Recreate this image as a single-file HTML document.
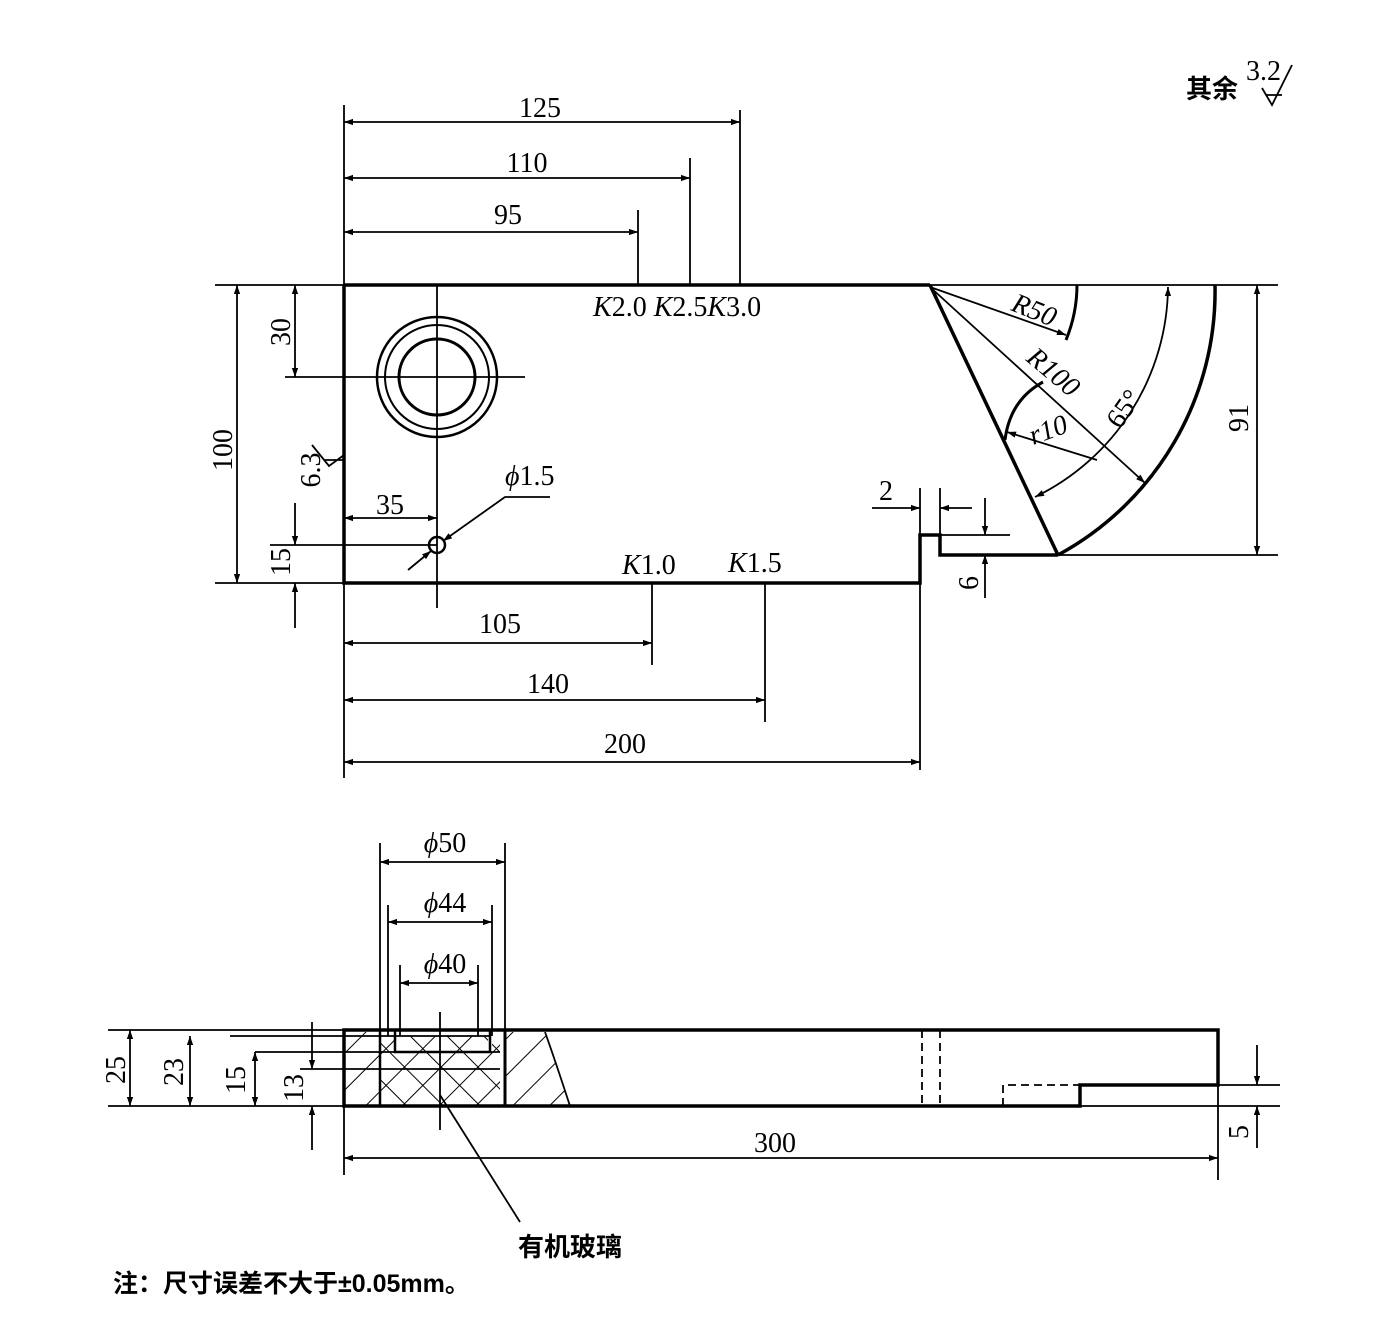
<!DOCTYPE html>
<html><head><meta charset="utf-8"><style>
html,body{margin:0;padding:0;background:#fff}
svg{display:block}
text{font-family:"Liberation Serif","Noto Serif CJK SC",serif;font-size:28px;fill:#000}
.cn{font-family:"Liberation Sans","Noto Sans CJK SC",sans-serif;font-weight:bold;font-size:26px}
</style></head><body>
<svg width="1376" height="1320" viewBox="0 0 1376 1320" xmlns="http://www.w3.org/2000/svg">
<defs>
<marker id="a" viewBox="0 0 10 10" refX="10" refY="5" markerWidth="18" markerHeight="9" markerUnits="userSpaceOnUse" orient="auto-start-reverse"><path d="M0,1.5 L10,5 L0,8.5z" fill="#000"/></marker>
<pattern id="h" width="26" height="26" patternUnits="userSpaceOnUse" patternTransform="rotate(45)"><line x1="0" y1="0" x2="0" y2="26" stroke="#000" stroke-width="2"/></pattern>
<pattern id="x" width="26" height="26" patternUnits="userSpaceOnUse" patternTransform="rotate(45)"><line x1="0" y1="0" x2="0" y2="26" stroke="#000" stroke-width="2"/><line x1="0" y1="0" x2="26" y2="0" stroke="#000" stroke-width="2"/></pattern>
</defs>
<g stroke="#000" fill="none" stroke-width="1.8">
<line x1="215" y1="285" x2="1278" y2="285"/>
<line x1="215" y1="583" x2="344" y2="583"/>
<line x1="1058" y1="555" x2="1278" y2="555"/>
<path d="M344,285 V583 H920 V535 H940 V555 H1058" stroke-width="3.5"/>
<line x1="344" y1="285" x2="930" y2="285" stroke-width="3.5"/>
<line x1="930" y1="285" x2="1058" y2="555" stroke-width="3.5"/>
<path d="M1058,555 A300,300 0 0 0 1215,285" stroke-width="3.5"/>
<path d="M1077,285 A145,145 0 0 1 1066,340" stroke-width="3"/>
<path d="M1005,440 Q1010,400 1043,382" stroke-width="3"/>
<line x1="930" y1="287" x2="1066" y2="335" marker-end="url(#a)"/>
<line x1="930" y1="287" x2="1145" y2="483" marker-end="url(#a)"/>
<line x1="1007" y1="432" x2="1097" y2="460" marker-start="url(#a)"/>
<path d="M1168,287 A236,236 0 0 1 1035,497" marker-start="url(#a)" marker-end="url(#a)"/>
<circle cx="437" cy="377" r="60" stroke-width="2.5"/>
<circle cx="437" cy="377" r="52" stroke-width="2"/>
<circle cx="437" cy="377" r="38" stroke-width="3"/>
<line x1="285" y1="377" x2="525" y2="377"/>
<line x1="437" y1="285" x2="437" y2="608"/>
<circle cx="437" cy="545" r="8" stroke-width="2.5"/>
<line x1="344" y1="105" x2="344" y2="285"/>
<line x1="740" y1="110" x2="740" y2="285"/>
<line x1="690" y1="158" x2="690" y2="285"/>
<line x1="638" y1="210" x2="638" y2="285"/>
<line x1="344" y1="122" x2="740" y2="122" marker-start="url(#a)" marker-end="url(#a)"/>
<line x1="344" y1="178" x2="690" y2="178" marker-start="url(#a)" marker-end="url(#a)"/>
<line x1="344" y1="232" x2="638" y2="232" marker-start="url(#a)" marker-end="url(#a)"/>
<line x1="344" y1="583" x2="344" y2="778"/>
<line x1="920" y1="583" x2="920" y2="770"/>
<line x1="652" y1="583" x2="652" y2="665"/>
<line x1="765" y1="583" x2="765" y2="722"/>
<line x1="344" y1="643" x2="652" y2="643" marker-start="url(#a)" marker-end="url(#a)"/>
<line x1="344" y1="700" x2="765" y2="700" marker-start="url(#a)" marker-end="url(#a)"/>
<line x1="344" y1="762" x2="920" y2="762" marker-start="url(#a)" marker-end="url(#a)"/>
<line x1="237" y1="285" x2="237" y2="583" marker-start="url(#a)" marker-end="url(#a)"/>
<line x1="295" y1="285" x2="295" y2="377" marker-start="url(#a)" marker-end="url(#a)"/>
<line x1="270" y1="545" x2="437" y2="545"/>
<line x1="295" y1="503" x2="295" y2="545" marker-end="url(#a)"/>
<line x1="295" y1="628" x2="295" y2="583" marker-end="url(#a)"/>
<line x1="344" y1="518" x2="437" y2="518" marker-start="url(#a)" marker-end="url(#a)"/>
<path d="M550,497 H505 L443,541" marker-end="url(#a)"/>
<line x1="408" y1="570" x2="431" y2="551" marker-end="url(#a)"/>
<path d="M312,445 L329,466 L344,455 M325,460 H344"/>
<line x1="920" y1="488" x2="920" y2="535"/>
<line x1="940" y1="488" x2="940" y2="535"/>
<line x1="872" y1="508" x2="920" y2="508" marker-end="url(#a)"/>
<line x1="972" y1="508" x2="940" y2="508" marker-end="url(#a)"/>
<line x1="940" y1="535" x2="1010" y2="535"/>
<line x1="985" y1="498" x2="985" y2="535" marker-end="url(#a)"/>
<line x1="985" y1="598" x2="985" y2="555" marker-end="url(#a)"/>
<line x1="1257" y1="285" x2="1257" y2="555" marker-start="url(#a)" marker-end="url(#a)"/>
<path d="M1262,88 L1272,105 L1292,65 M1266,95 H1282"/>
<rect x="380" y="1036" width="120" height="70" fill="url(#x)" stroke="none"/>
<rect x="344" y="1032" width="36" height="74" fill="url(#h)" stroke="none"/>
<path d="M505,1032 H545 Q555,1060 570,1106 H505Z" fill="url(#h)" stroke="none"/>
<rect x="395" y="1032" width="97" height="18" fill="#fff" stroke="none"/>
<rect x="400" y="1036" width="88" height="14" fill="url(#x)" stroke="none"/>
<path d="M545,1032 Q555,1060 570,1106"/>
<line x1="108" y1="1030" x2="1218" y2="1030"/>
<line x1="108" y1="1106" x2="344" y2="1106"/>
<line x1="230" y1="1036" x2="490" y2="1036"/>
<line x1="255" y1="1052" x2="500" y2="1052"/>
<line x1="300" y1="1069" x2="500" y2="1069"/>
<path d="M344,1030 H1218 V1085 H1080 V1106 H344Z" stroke-width="3.5"/>
<line x1="1080" y1="1085" x2="1280" y2="1085"/>
<line x1="1080" y1="1106" x2="1280" y2="1106"/>
<line x1="380" y1="1030" x2="380" y2="1106" stroke-width="2.5"/>
<line x1="505" y1="1030" x2="505" y2="1106" stroke-width="3"/>
<path d="M395,1030 V1052 H490 V1030" stroke-width="2.5"/>
<line x1="922" y1="1030" x2="922" y2="1106" stroke-dasharray="8,5"/>
<line x1="940" y1="1030" x2="940" y2="1106" stroke-dasharray="8,5"/>
<path d="M1003,1106 V1085 H1080" stroke-dasharray="8,5"/>
<line x1="440" y1="1012" x2="440" y2="1130"/>
<line x1="380" y1="843" x2="380" y2="1030"/>
<line x1="505" y1="843" x2="505" y2="1030"/>
<line x1="388" y1="905" x2="388" y2="1036"/>
<line x1="492" y1="905" x2="492" y2="1036"/>
<line x1="400" y1="965" x2="400" y2="1036"/>
<line x1="478" y1="965" x2="478" y2="1036"/>
<line x1="380" y1="862" x2="505" y2="862" marker-start="url(#a)" marker-end="url(#a)"/>
<line x1="388" y1="922" x2="492" y2="922" marker-start="url(#a)" marker-end="url(#a)"/>
<line x1="400" y1="983" x2="478" y2="983" marker-start="url(#a)" marker-end="url(#a)"/>
<line x1="130" y1="1030" x2="130" y2="1106" marker-start="url(#a)" marker-end="url(#a)"/>
<line x1="190" y1="1036" x2="190" y2="1106" marker-start="url(#a)" marker-end="url(#a)"/>
<line x1="255" y1="1052" x2="255" y2="1106" marker-start="url(#a)" marker-end="url(#a)"/>
<line x1="312" y1="1022" x2="312" y2="1069" marker-end="url(#a)"/>
<line x1="312" y1="1150" x2="312" y2="1106" marker-end="url(#a)"/>
<line x1="344" y1="1106" x2="344" y2="1175"/>
<line x1="1218" y1="1085" x2="1218" y2="1180"/>
<line x1="344" y1="1158" x2="1218" y2="1158" marker-start="url(#a)" marker-end="url(#a)"/>
<line x1="1257" y1="1045" x2="1257" y2="1085" marker-end="url(#a)"/>
<line x1="1257" y1="1148" x2="1257" y2="1106" marker-end="url(#a)"/>
<line x1="440" y1="1095" x2="520" y2="1222"/>
</g>
<g>
<text x="540" y="117" text-anchor="middle">125</text>
<text x="527" y="172" text-anchor="middle">110</text>
<text x="508" y="224" text-anchor="middle">95</text>
<text x="593" y="316"><tspan font-style="italic">K</tspan>2.0 <tspan font-style="italic">K</tspan>2.5<tspan font-style="italic">K</tspan>3.0</text>
<text x="622" y="574"><tspan font-style="italic">K</tspan>1.0</text>
<text x="728" y="572"><tspan font-style="italic">K</tspan>1.5</text>
<text x="500" y="633" text-anchor="middle">105</text>
<text x="548" y="693" text-anchor="middle">140</text>
<text x="625" y="753" text-anchor="middle">200</text>
<text x="390" y="514" text-anchor="middle">35</text>
<text x="505" y="485"><tspan font-style="italic">ϕ</tspan>1.5</text>
<text x="886" y="500" text-anchor="middle">2</text>
<text transform="translate(232,450) rotate(-90)" text-anchor="middle">100</text>
<text transform="translate(290,332) rotate(-90)" text-anchor="middle">30</text>
<text transform="translate(290,562) rotate(-90)" text-anchor="middle">15</text>
<text transform="translate(320,470) rotate(-90)" text-anchor="middle">6.3</text>
<text transform="translate(978,583) rotate(-90)" text-anchor="middle">6</text>
<text transform="translate(1248,418) rotate(-90)" text-anchor="middle">91</text>
<text transform="translate(1010,310) rotate(22)" font-style="italic">R50</text>
<text transform="translate(1025,360) rotate(40)" font-style="italic">R100</text>
<text transform="translate(1033,445) rotate(-20)" font-style="italic">r10</text>
<text transform="translate(1120,430) rotate(-55)">65°</text>
<text x="1186" y="98" class="cn">其余</text>
<text x="1246" y="80" font-size="24">3.2</text>
<text x="445" y="852" text-anchor="middle"><tspan font-style="italic">ϕ</tspan>50</text>
<text x="445" y="912" text-anchor="middle"><tspan font-style="italic">ϕ</tspan>44</text>
<text x="445" y="973" text-anchor="middle"><tspan font-style="italic">ϕ</tspan>40</text>
<text transform="translate(125,1070) rotate(-90)" text-anchor="middle">25</text>
<text transform="translate(183,1072) rotate(-90)" text-anchor="middle">23</text>
<text transform="translate(245,1080) rotate(-90)" text-anchor="middle">15</text>
<text transform="translate(303,1088) rotate(-90)" text-anchor="middle">13</text>
<text transform="translate(1248,1132) rotate(-90)" text-anchor="middle">5</text>
<text x="775" y="1152" text-anchor="middle">300</text>
<text x="570" y="1256" text-anchor="middle" class="cn">有机玻璃</text>
<text x="113" y="1292" class="cn" style="font-size:25px">注：尺寸误差不大于±0.05mm。</text>
</g>
</svg>
</body></html>
